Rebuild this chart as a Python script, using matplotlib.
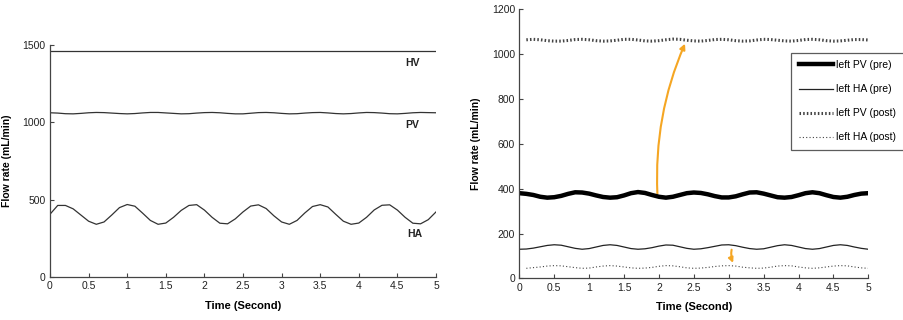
import numpy as np
import matplotlib
matplotlib.use("Agg")
import matplotlib.pyplot as plt
from matplotlib.patches import FancyArrowPatch

plt.rcParams['font.family'] = ['Liberation Sans', 'DejaVu Sans']

# ------------------------
# Data (0.1 s steps)
# ------------------------
time = [round(0.1 * i, 1) for i in range(51)]

# left panel
hv_time = [0, 5]
hv_flow = [1465, 1465]
pv_flow = [1062, 1060, 1056, 1055, 1058, 1062, 1064, 1063, 1060, 1057,
           1055, 1057, 1061, 1064, 1064, 1061, 1058, 1055, 1056, 1060,
           1063, 1064, 1062, 1058, 1055, 1055, 1059, 1063, 1064, 1062,
           1058, 1055, 1056, 1060, 1063, 1064, 1061, 1057, 1055, 1057,
           1061, 1064, 1063, 1060, 1056, 1055, 1058, 1062, 1064, 1063, 1062]
ha_flow = [405, 462, 462, 440, 400, 360, 340, 355, 400, 448,
           468, 457, 412, 365, 340, 348, 385, 430, 462, 467,
           432, 385, 347, 343, 375, 420, 458, 466, 442, 395,
           355, 340, 365, 413, 455, 467, 452, 405, 360, 340,
           348, 385, 433, 463, 466, 432, 385, 347, 343, 370, 420]

# right panel
pv_pre = [380, 377, 372, 364, 360, 362, 368, 377, 384, 383,
          378, 370, 363, 360, 362, 370, 380, 385, 381, 372,
          364, 360, 364, 372, 380, 383, 381, 375, 367, 361,
          361, 366, 375, 383, 384, 378, 370, 362, 360, 363,
          371, 380, 384, 380, 371, 363, 360, 364, 372, 378, 380]
ha_pre = [130, 131, 135, 141, 147, 150, 148, 141, 134, 130,
          133, 140, 147, 150, 147, 140, 133, 130, 132, 137,
          144, 149, 148, 141, 134, 130, 132, 137, 143, 149,
          150, 146, 139, 133, 130, 132, 139, 146, 150, 147,
          140, 133, 130, 133, 140, 147, 150, 147, 140, 134, 130]
pv_post = [1062, 1064, 1066, 1064, 1060, 1058, 1058, 1061, 1065, 1066,
           1064, 1060, 1058, 1059, 1062, 1066, 1066, 1063, 1059, 1058,
           1060, 1064, 1067, 1066, 1062, 1059, 1058, 1061, 1065, 1066,
           1064, 1060, 1058, 1059, 1063, 1066, 1065, 1062, 1059, 1058,
           1061, 1065, 1066, 1064, 1060, 1058, 1059, 1062, 1065, 1065, 1063]
ha_post = [45, 45, 48, 51, 55, 57, 56, 52, 48, 45,
           46, 51, 55, 57, 55, 51, 47, 45, 46, 49,
           54, 57, 56, 52, 47, 45, 46, 49, 53, 56,
           57, 55, 50, 47, 45, 46, 50, 55, 57, 56,
           51, 47, 45, 47, 51, 55, 57, 56, 51, 47, 45]

xticks = [0, 0.5, 1, 1.5, 2, 2.5, 3, 3.5, 4, 4.5, 5]
xticklabels = ["0", "0.5", "1", "1.5", "2", "2.5", "3", "3.5", "4", "4.5", "5"]

AX_COLOR = "#444444"


def style_axes(ax):
    for s in ["top", "right"]:
        ax.spines[s].set_visible(False)
    for s in ["left", "bottom"]:
        ax.spines[s].set_color(AX_COLOR)
        ax.spines[s].set_linewidth(0.9)
    ax.tick_params(direction="in", length=3, width=0.8, colors=AX_COLOR,
                   labelsize=7.5, labelcolor="#222222", pad=3)
    ax.set_xlim(0, 5)
    ax.set_xticks(xticks)
    ax.set_xticklabels(xticklabels)
    ax.set_xlabel("Time (Second)", fontsize=8, fontweight="bold", labelpad=7)
    ax.set_ylabel("Flow rate (mL/min)", fontsize=7.5, fontweight="bold", labelpad=8)


fig = plt.figure(figsize=(9.04, 3.2), dpi=100)

# ------------------------
# Left panel
# ------------------------
ax1 = fig.add_axes([0.0553, 0.135, 0.427, 0.724])
ax1.plot(hv_time, hv_flow, color="#333333", lw=0.9)
ax1.plot(time, pv_flow, color="#333333", lw=0.9)
ax1.plot(time, ha_flow, color="#333333", lw=0.9)
ax1.set_ylim(0, 1500)
ax1.set_yticks([0, 500, 1000, 1500])
style_axes(ax1)
ax1.text(4.6, 1365, "HV", fontsize=7.5, fontweight="bold", color="#222222")
ax1.text(4.6, 965, "PV", fontsize=7.5, fontweight="bold", color="#222222")
ax1.text(4.63, 255, "HA", fontsize=7.5, fontweight="bold", color="#222222")

# ------------------------
# Right panel
# ------------------------
ax2 = fig.add_axes([0.5745, 0.130, 0.386, 0.841])
ax2.plot(time, pv_pre, color="black", lw=3.2, label="left PV (pre)")
ax2.plot(time, ha_pre, color="#222222", lw=0.9, label="left HA (pre)")
ax2.plot(time[1:], pv_post[1:], color="#444444", lw=2.2,
         linestyle=(0, (0.5, 0.7)), label="left PV (post)")
ax2.plot(time[1:], ha_post[1:], color="#444444", lw=0.8,
         linestyle=(0, (1, 2)), label="left HA (post)")
ax2.set_ylim(0, 1200)
ax2.set_yticks([0, 200, 400, 600, 800, 1000, 1200])
style_axes(ax2)

# orange arrows
arrow1 = FancyArrowPatch((1.98, 365), (2.39, 1058), connectionstyle="arc3,rad=-0.12",
                         arrowstyle="-|>", mutation_scale=8, color="#f5a623", lw=1.5)
arrow2 = FancyArrowPatch((3.05, 140), (3.08, 58), connectionstyle="arc3,rad=0.2",
                         arrowstyle="-|>", mutation_scale=7, color="#f5a623", lw=1.5)
ax2.add_patch(arrow1)
ax2.add_patch(arrow2)

leg = ax2.legend(loc="upper right", bbox_to_anchor=(0.9995, 0.835),
                 bbox_transform=fig.transFigure, fontsize=7.5, frameon=True,
                 fancybox=False, edgecolor="#333333", handlelength=3.3,
                 handletextpad=0.3, labelspacing=1.35, borderpad=0.7,
                 borderaxespad=0)
leg.get_frame().set_linewidth(0.9)

fig.savefig("out.png", dpi=100)
